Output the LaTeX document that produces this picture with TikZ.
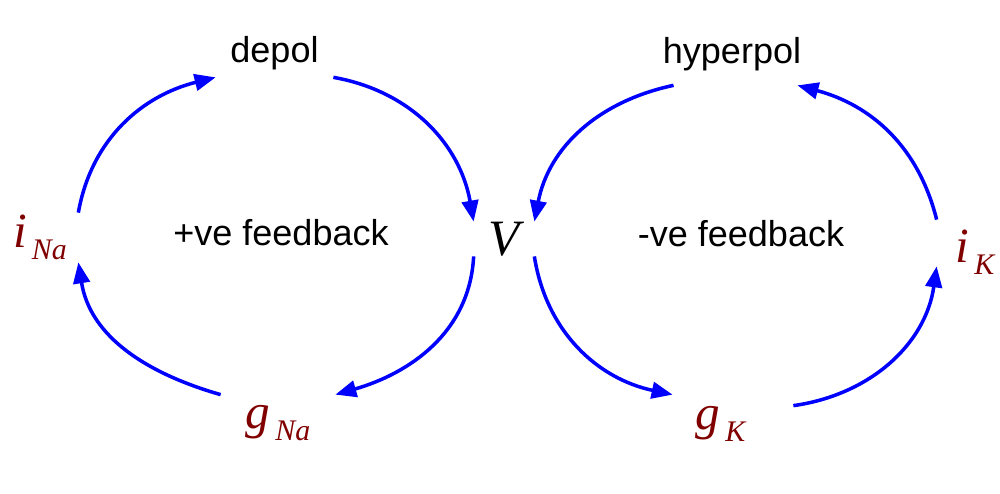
\documentclass[tikz,border=0pt]{standalone}
\usepackage{fontspec}
\setmainfont{Liberation Sans}
\newfontfamily\varfont{Liberation Serif}
\usetikzlibrary{arrows.meta}
\definecolor{ArrowClr}{RGB}{0,0,255}
\definecolor{VarClr}{RGB}{128,0,0}
\newcommand{\SymVar}[2]{{\varfont\itshape\fontsize{28}{28}\selectfont #1\raisebox{-0.24cm}{\fontsize{17}{17}\selectfont\,#2}}}

\begin{document}
\begin{tikzpicture}[every node/.style={inner sep=0pt},
  lbl/.style={font=\fontsize{20.5}{24}\selectfont},
  var/.style={text=VarClr},
  flow/.style={-{Triangle[length=0.42cm,width=0.33cm]},line width=2pt,color=ArrowClr}]
\useasboundingbox (0,0) rectangle (20,9.88);

\node[var,minimum width=1.52cm,minimum height=0.98cm] (iNa) at (0.80,5.13) {\SymVar{i}{Na}};
\node[lbl,minimum width=2.34cm,minimum height=0.94cm] (depol) at (5.49,8.81) {depol};
\node[minimum width=1.2cm,minimum height=0.68cm] (V) at (10.08,5.10) {{\varfont\itshape\fontsize{29}{29}\selectfont V}};
\node[var,minimum width=2.28cm,minimum height=1.14cm] (gNa) at (5.56,1.41) {\SymVar{g}{Na}};
\node[lbl,minimum height=1.24cm] (hyperpol) at (14.64,8.80) {hyperpol};
\node[var,minimum width=1.9cm,minimum height=1.14cm] (gK) at (14.41,1.41) {\SymVar{g}{K}};
\node[var,minimum width=1.52cm,minimum height=1.28cm] (iK) at (19.50,4.84) {\SymVar{i}{K}};

\node[lbl,anchor=base] (posfb) at (5.62,4.96) {+ve feedback};
\node[lbl,anchor=base] (negfb) at (14.82,4.94) {-ve feedback};

\draw[flow] (iNa.north east) to[out=80,in=194] (depol.south west);
\draw[flow] (depol.south east) to[out=-10,in=100] (V.north west);
\draw[flow] (V.south west) to[out=-93,in=16] (gNa.north east);
\draw[flow] (gNa.north west) to[out=164,in=-81] (iNa.south east);

\draw[flow] ([xshift=0.22cm]hyperpol.south west) to[out=192,in=79] (V.north east);
\draw[flow] (V.south east) to[out=-81,in=168] (gK.north west);
\draw[flow] ([shift={(0.5,-0.22)}]gK.north east) to[out=8,in=-98] ([yshift=0.36cm]iK.south west);
\draw[flow] (iK.north west) to[out=104,in=-15] ([xshift=-0.08cm]hyperpol.south east);

\end{tikzpicture}
\end{document}
